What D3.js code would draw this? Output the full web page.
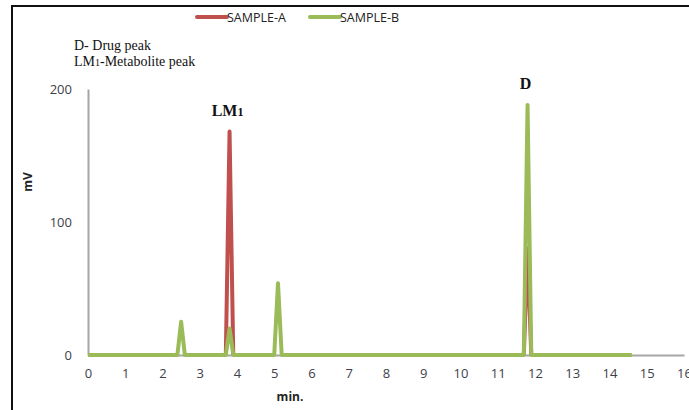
<!DOCTYPE html>
<html>
<head>
<meta charset="utf-8">
<script src="https://cdn.jsdelivr.net/npm/d3@7"></script>
<style>
  body { margin: 0; background: #fff; }
  .tick text { fill: #404048; font-family: "Open Sans", "DejaVu Sans", sans-serif; font-size: 13px; }
</style>
</head>
<body>
<div id="chart"></div>
<script>
// chromatogram points: [min, mV]; null = no trace drawn
const sampleA = [[3.7, 0], [3.8, 168], [3.9, 0], null, [11.7, 0], [11.8, 80], [11.9, 0]];
const sampleB = [[0, 0], [2.4, 0], [2.5, 25], [2.6, 0], [3.7, 0], [3.8, 20], [3.9, 0],
  [5.0, 0], [5.1, 54], [5.2, 0], [11.7, 0], [11.8, 188], [11.9, 0], [14.6, 0]];
const xTicks = d3.range(0, 17, 1);
const yTicks = [0, 100, 200];
const seriesNames = ["SAMPLE-A", "SAMPLE-B"];
const seriesColors = ["#c0504d", "#9bbb59"];
const peakLabels = [{ text: "LM", sub: "1", x: 3.8, y: 168 }, { text: "D", sub: "", x: 11.8, y: 188 }];
const notes = ["D- Drug peak", "LM1-Metabolite peak"];

const width = 689, height = 410;
const svg = d3.select("#chart").append("svg").attr("width", width).attr("height", height);

// outer frame
svg.append("path")
  .attr("d", `M12,${height + 5} V6 H${width + 5}`)
  .attr("fill", "none").attr("stroke", "#111").attr("stroke-width", 2);

const x = d3.scaleLinear().domain([0, 16]).range([88, 684]);
const y = d3.scaleLinear().domain([0, 200]).range([355, 89]);

// axes
const xAxis = svg.append("g").attr("transform", `translate(0,${y(0)})`)
  .call(d3.axisBottom(x).tickValues(xTicks).tickSize(0).tickPadding(14));
xAxis.select(".domain").attr("stroke", "#a6a6a6").attr("stroke-width", 2);

const yAxis = svg.append("g").attr("transform", `translate(${x(0)},0)`)
  .call(d3.axisLeft(y).tickValues(yTicks).tickSize(0).tickPadding(16));
yAxis.select(".domain").attr("stroke", "#a6a6a6").attr("stroke-width", 2);

svg.append("text").attr("x", 290).attr("y", 401).attr("text-anchor", "middle")
  .attr("font-family", "'Open Sans', sans-serif").attr("font-weight", "bold").attr("font-size", 12)
  .attr("fill", "#222").text("min.");
svg.append("text").attr("transform", "translate(32,182) rotate(-90)").attr("text-anchor", "middle")
  .attr("font-family", "'Open Sans', sans-serif").attr("font-weight", "bold").attr("font-size", 12)
  .attr("fill", "#222").text("mV");

// lines
const line = d3.line().defined(d => d).x(d => x(d[0])).y(d => y(d[1]));
[sampleA, sampleB].forEach((s, i) => {
  svg.append("path").datum(s).attr("d", line)
    .attr("fill", "none").attr("stroke", seriesColors[i]).attr("stroke-width", 4)
    .attr("stroke-linejoin", "round");
});

// legend
const legend = svg.append("g").attr("font-family", "'Open Sans', sans-serif").attr("font-size", 12.5);
const legX = [197, 310];
seriesNames.forEach((n, i) => {
  legend.append("line").attr("x1", legX[i]).attr("x2", legX[i] + 30).attr("y1", 17).attr("y2", 17)
    .attr("stroke", seriesColors[i]).attr("stroke-width", 4).attr("stroke-linecap", "round");
  legend.append("text").attr("x", legX[i] + 30).attr("y", 22).attr("fill", "#222").text(n);
});

// notes
const notesG = svg.append("g").attr("font-family", "'Liberation Serif', serif").attr("font-size", 14).attr("fill", "#111");
notesG.append("text").attr("x", 74).attr("y", 50).text(notes[0]);
const t2 = notesG.append("text").attr("x", 74).attr("y", 66);
t2.append("tspan").text("LM");
t2.append("tspan").attr("font-size", 10).text("1");
t2.append("tspan").text("-Metabolite peak");

// peak labels
peakLabels.forEach(p => {
  const t = svg.append("text").attr("x", x(p.x) - 2).attr("y", y(p.y) - 16).attr("text-anchor", "middle")
    .attr("font-family", "'Liberation Serif', serif").attr("font-weight", "bold").attr("font-size", 16)
    .attr("fill", "#111");
  t.append("tspan").text(p.text);
  if (p.sub) t.append("tspan").attr("font-size", 12).text(p.sub);
});
</script>
</body>
</html>
